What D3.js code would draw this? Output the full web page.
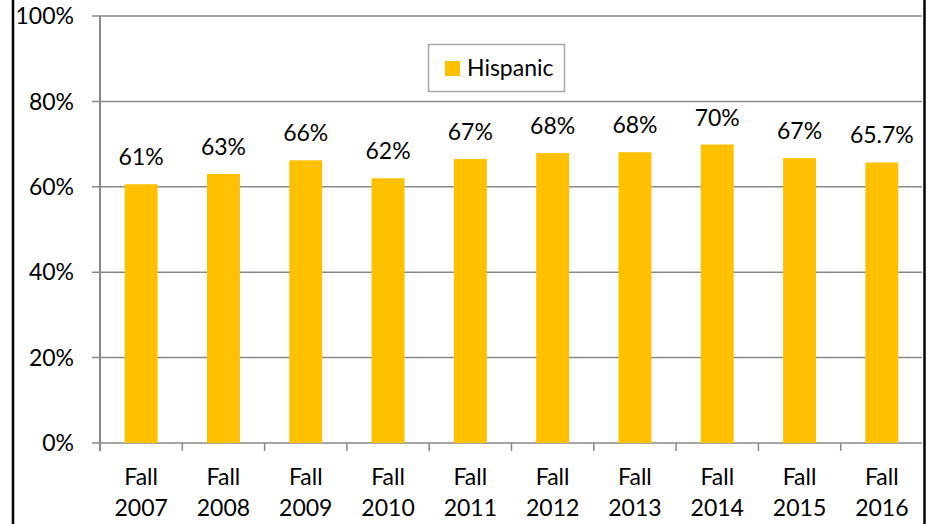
<!DOCTYPE html>
<html>
<head>
<meta charset="utf-8">
<script src="https://cdn.jsdelivr.net/npm/d3@7"></script>
<style>
  body { margin: 0; background: #fff; }
  svg text { font-family: Lato, "Open Sans", sans-serif; fill: #000; }
</style>
</head>
<body>
<svg width="935" height="524"></svg>
<script>
var years = ["2007", "2008", "2009", "2010", "2011", "2012", "2013", "2014", "2015", "2016"];
var values = [60.6, 63.0, 66.2, 62.0, 66.5, 67.9, 68.1, 69.9, 66.7, 65.7];
var valueLabels = ["61%", "63%", "66%", "62%", "67%", "68%", "68%", "70%", "67%", "65.7%"];
var yTicks = [0, 20, 40, 60, 80, 100];
var seriesName = "Hispanic";

var svg = d3.select("svg"),
    width = +svg.attr("width"),
    height = +svg.attr("height");

var margin = {left: 100, right: 12, top: 16, bottom: 81};
var gridColor = "#898989",
    barColor = "#FFC000";

var x = d3.scaleBand()
    .domain(years)
    .range([margin.left, width - margin.right]);

var y = d3.scaleLinear()
    .domain([0, 100])
    .range([height - margin.bottom, margin.top]);

// outer frame (left and right black lines)
svg.append("line")
    .attr("x1", 13).attr("x2", 13).attr("y1", 0).attr("y2", height)
    .attr("stroke", "#000").attr("stroke-width", 2.5);
svg.append("line")
    .attr("x1", 924.5).attr("x2", 924.5).attr("y1", 0).attr("y2", height)
    .attr("stroke", "#000").attr("stroke-width", 2.5);

// gridlines
svg.append("g")
    .selectAll("line")
    .data(yTicks)
    .enter().append("line")
    .attr("x1", margin.left - 8)
    .attr("x2", width - margin.right - 1)
    .attr("y1", function (d) { return y(d); })
    .attr("y2", function (d) { return y(d); })
    .attr("stroke", gridColor)
    .attr("stroke-width", 1.5);

// y tick labels
svg.append("g")
    .selectAll("text")
    .data(yTicks)
    .enter().append("text")
    .attr("x", 74)
    .attr("y", function (d) { return y(d); })
    .attr("dy", "0.36em")
    .attr("text-anchor", "end")
    .style("font-size", "23px")
    .text(function (d) { return d + "%"; });

// bars
var bw = x.bandwidth() * 0.4;
svg.append("g")
    .selectAll("rect")
    .data(years)
    .enter().append("rect")
    .attr("x", function (d) { return x(d) + (x.bandwidth() - bw) / 2; })
    .attr("width", bw)
    .attr("y", function (d, i) { return y(values[i]); })
    .attr("height", function (d, i) { return y(0) - y(values[i]); })
    .attr("fill", barColor);

// value labels
svg.append("g")
    .selectAll("text")
    .data(years)
    .enter().append("text")
    .attr("x", function (d) { return x(d) + x.bandwidth() / 2; })
    .attr("y", function (d, i) { return y(values[i]) - 19; })
    .attr("text-anchor", "middle")
    .style("font-size", "23px")
    .text(function (d, i) { return valueLabels[i]; });

// axes lines
svg.append("line")
    .attr("x1", margin.left).attr("x2", margin.left)
    .attr("y1", y(100)).attr("y2", y(0) + 8)
    .attr("stroke", gridColor).attr("stroke-width", 2);

// x ticks at category boundaries
svg.append("g")
    .selectAll("line")
    .data(years.slice(1))
    .enter().append("line")
    .attr("x1", function (d) { return x(d); })
    .attr("x2", function (d) { return x(d); })
    .attr("y1", y(0))
    .attr("y2", y(0) + 8)
    .attr("stroke", gridColor)
    .attr("stroke-width", 1.5);

// x labels
var xl = svg.append("g")
    .selectAll("text")
    .data(years)
    .enter().append("text")
    .attr("x", function (d) { return x(d) + x.bandwidth() / 2; })
    .attr("text-anchor", "middle")
    .style("font-size", "23px");
xl.append("tspan")
    .attr("x", function (d) { return x(d) + x.bandwidth() / 2; })
    .attr("y", 485)
    .text("Fall");
xl.append("tspan")
    .attr("x", function (d) { return x(d) + x.bandwidth() / 2; })
    .attr("y", 516)
    .text(function (d) { return d; });

// legend
var legend = svg.append("g");
legend.append("rect")
    .attr("x", 428.5).attr("y", 44.5)
    .attr("width", 136).attr("height", 47)
    .attr("fill", "#fff")
    .attr("stroke", "#a6a6a6").attr("stroke-width", 1.5);
legend.append("rect")
    .attr("x", 445).attr("y", 61)
    .attr("width", 15).attr("height", 15)
    .attr("fill", barColor);
legend.append("text")
    .attr("x", 467).attr("y", 76)
    .style("font-size", "23px")
    .text(seriesName);
</script>
</body>
</html>
